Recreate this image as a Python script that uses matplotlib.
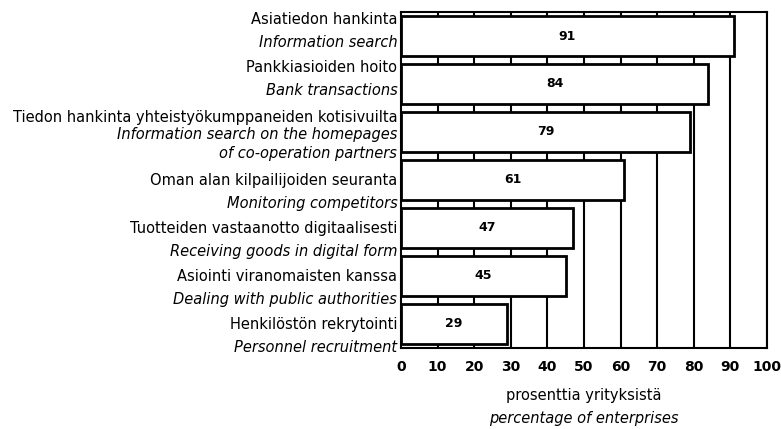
import matplotlib.pyplot as plt

# Finnish / English category labels, top to bottom
labels_fi = [
    "Asiatiedon hankinta",
    "Pankkiasioiden hoito",
    "Tiedon hankinta yhteistyökumppaneiden kotisivuilta",
    "Oman alan kilpailijoiden seuranta",
    "Tuotteiden vastaanotto digitaalisesti",
    "Asiointi viranomaisten kanssa",
    "Henkilöstön rekrytointi",
]
labels_en = [
    "Information search",
    "Bank transactions",
    "Information search on the homepages\nof co-operation partners",
    "Monitoring competitors",
    "Receiving goods in digital form",
    "Dealing with public authorities",
    "Personnel recruitment",
]
values = [91, 84, 79, 61, 47, 45, 29]
xticks = list(range(0, 101, 10))

font = "DejaVu Sans"
fs = 10.5

fig = plt.figure(figsize=(7.81, 4.29), dpi=100)
ax = fig.add_axes([0.5134, 0.189, 0.4686, 0.783])

pos = list(range(len(values)))[::-1]
ax.set_xlim(0, 100)
ax.set_ylim(-0.5, len(values) - 0.5)

for x in xticks[1:]:
    ax.axvline(x, color="black", lw=1.5, zorder=1)

ax.barh(pos, values, height=0.84, color="white", edgecolor="black", lw=2, zorder=2)

for p, v in zip(pos, values):
    ax.text(v / 2, p, str(v), ha="center", va="center", fontsize=9,
            fontweight="bold", family=font, zorder=3)

# the label pairs sit a bit higher for the top rows than for the lower ones
for i, (p, fi, en) in enumerate(zip(pos, labels_fi, labels_en)):
    lines = [(fi, "normal")] + [(e, "italic") for e in en.split("\n")]
    if len(lines) == 3:
        offs = [0.31, -0.06, -0.44]
    elif i < 2:
        offs = [0.34, -0.14]
    else:
        offs = [-0.02, -0.49]
    for (txt, st), dy in zip(lines, offs):
        ax.text(-1.0, p + dy, txt, ha="right", va="center", fontsize=fs,
                style=st, family=font, clip_on=False)

ax.set_yticks([])
ax.set_xticks(xticks)
ax.set_xticklabels([str(t) for t in xticks], fontsize=10, fontweight="bold",
                   family=font)
ax.tick_params(axis="x", length=0, pad=9)
for s in ax.spines.values():
    s.set_linewidth(1.5)

fig.text(0.748, 0.078, "prosenttia yrityksistä", ha="center", va="center",
         fontsize=10.5, family=font)
fig.text(0.748, 0.025, "percentage of enterprises", ha="center", va="center",
         fontsize=10.5, style="italic", family=font)

fig.savefig("out.png", dpi=100)
